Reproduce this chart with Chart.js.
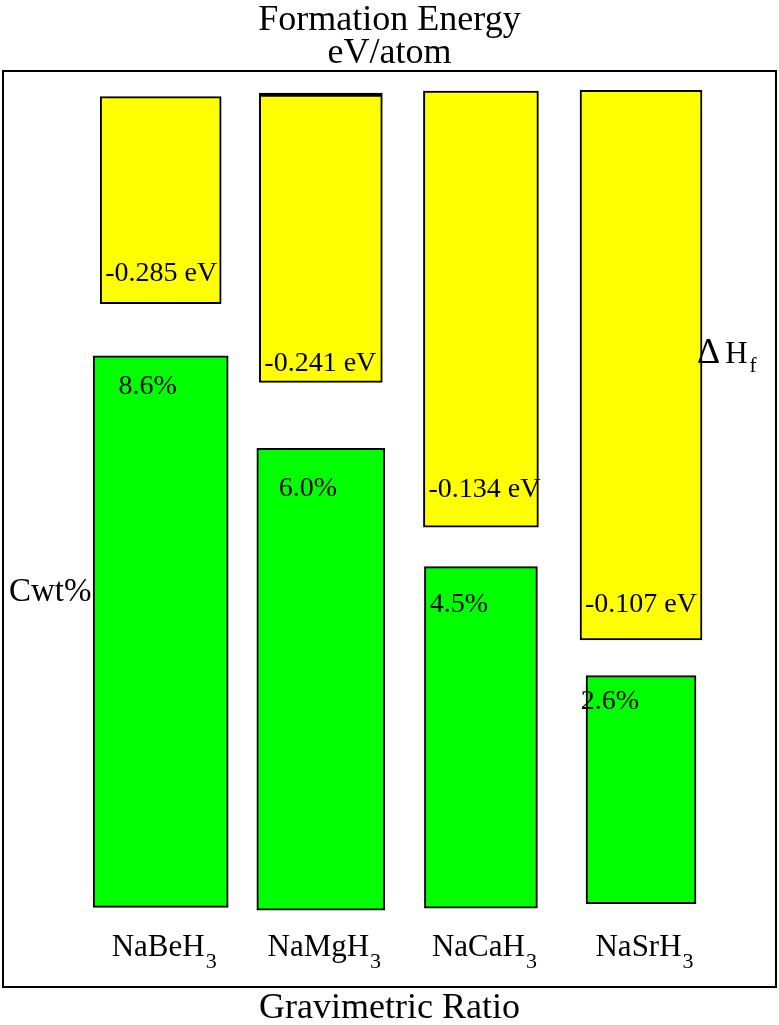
<!DOCTYPE html>
<html>
<head>
<meta charset="utf-8">
<title>Formation Energy and Gravimetric Ratio</title>
<script src="https://cdn.jsdelivr.net/npm/chart.js@4/dist/chart.umd.min.js"></script>
<style>
  html, body { margin: 0; padding: 0; background: #fff; }
  canvas { display: block; }
</style>
</head>
<body>
<canvas id="chart" width="779" height="1025"></canvas>
<script>
// compounds, left to right (last character is drawn as a subscript)
const compounds = ['NaBeH3', 'NaMgH3', 'NaCaH3', 'NaSrH3'];
// formation energy (eV/atom) and gravimetric ratio (wt%) labels
const energyLabels = ['-0.285 eV', '-0.241 eV', '-0.134 eV', '-0.107 eV'];
const weightLabels = ['8.6%', '6.0%', '4.5%', '2.6%'];
// schematic bar extents, in % of panel height from the bottom of the frame
const energyBars = [[74.6, 97.2], [66.0, 97.6], [50.2, 97.8], [37.9, 97.9]];
const weightBars = [[8.7, 68.9], [8.4, 58.8], [8.6, 45.9], [9.1, 34.0]];

// bar widths in px (the figure is hand drawn, widths differ a little)
const energyWidths = [121, 123, 115, 122];
const weightWidths = [135, 128, 113, 110];
// label placement inside the bars
const energyRise = [23, 11, 30, 28];
const weightDrop = [38, 48, 45, 33];
const weightShift = [-13, -13, -22, -31];

const serif = "'Liberation Serif', 'Times New Roman', serif";

const datasets = [];
compounds.forEach((name, i) => {
    datasets.push({
        label: name + ' energy',
        data: [{ x: i + 1, y: energyBars[i] }],
        backgroundColor: '#ffff00',
        borderColor: '#000',
        borderWidth: i === 1 ? { top: 4, left: 2, right: 2, bottom: 2 } : 2,
        borderSkipped: false,
        barThickness: energyWidths[i],
        grouped: false
    });
    datasets.push({
        label: name + ' wt%',
        data: [{ x: i + 1, y: weightBars[i] }],
        backgroundColor: '#00ff00',
        borderColor: '#000',
        borderWidth: 2,
        borderSkipped: false,
        barThickness: weightWidths[i],
        grouped: false
    });
});

// frame, titles and the labels in the bars
const figureText = {
    id: 'figureText',
    afterDraw(chart) {
        const ctx = chart.ctx;
        const area = chart.chartArea;
        const xs = chart.scales.x;
        const mid = chart.width / 2;
        ctx.save();
        ctx.strokeStyle = '#000';
        ctx.lineWidth = 2;
        ctx.strokeRect(area.left, area.top, area.right - area.left, area.bottom - area.top);

        ctx.fillStyle = '#000';
        ctx.textBaseline = 'alphabetic';
        ctx.textAlign = 'center';
        ctx.font = '36px ' + serif;
        ctx.fillText('Formation Energy', mid, 30);
        ctx.fillText('eV/atom', mid, 63);
        ctx.fillText('Gravimetric Ratio', mid, 1018);

        ctx.textAlign = 'left';
        ctx.font = '33px ' + serif;
        ctx.fillText('Cwt%', 9, 601);

        // Delta H with subscript f
        ctx.font = '36px ' + serif;
        ctx.fillText('\u0394', 697, 363);
        const dw = ctx.measureText('\u0394').width;
        ctx.font = '31px ' + serif;
        ctx.fillText('H', 697 + dw + 5, 363);
        const hw = ctx.measureText('H').width;
        ctx.font = '21px ' + serif;
        ctx.fillText('f', 697 + dw + 5 + hw + 2, 372);

        // compound names under the bars
        compounds.forEach((name, i) => {
            const main = name.slice(0, -1);
            const sub = name.slice(-1);
            ctx.font = '31px ' + serif;
            const w1 = ctx.measureText(main).width;
            ctx.font = '22px ' + serif;
            const w2 = ctx.measureText(sub).width;
            const left = xs.getPixelForValue(i + 1) + 3 - (w1 + w2) / 2;
            ctx.font = '31px ' + serif;
            ctx.fillText(main, left, 956);
            ctx.font = '22px ' + serif;
            ctx.fillText(sub, left + w1 + 1, 968);
        });

        // values inside the bars
        ctx.font = '28px ' + serif;
        compounds.forEach((name, i) => {
            const y = chart.getDatasetMeta(2 * i).data[0].getProps(['x', 'y', 'base', 'width'], true);
            const bottom = Math.max(y.y, y.base);
            ctx.textAlign = 'left';
            ctx.fillText(energyLabels[i], y.x - y.width / 2 + 5, bottom - energyRise[i]);

            const g = chart.getDatasetMeta(2 * i + 1).data[0].getProps(['x', 'y', 'base', 'width'], true);
            const top = Math.min(g.y, g.base);
            ctx.textAlign = 'center';
            ctx.fillText(weightLabels[i], g.x + weightShift[i], top + weightDrop[i]);
        });
        ctx.restore();
    }
};

new Chart(document.getElementById('chart'), {
    type: 'bar',
    data: { datasets: datasets },
    options: {
        responsive: false,
        animation: false,
        layout: { padding: { left: 3, right: 3, top: 71, bottom: 38 } },
        plugins: {
            legend: { display: false },
            tooltip: { enabled: false },
            title: { display: false }
        },
        scales: {
            x: {
                type: 'linear',
                display: false,
                offset: false,
                min: 0.015,
                max: 4.843
            },
            y: {
                display: false,
                min: 0,
                max: 100
            }
        }
    },
    plugins: [figureText]
});
</script>
</body>
</html>
